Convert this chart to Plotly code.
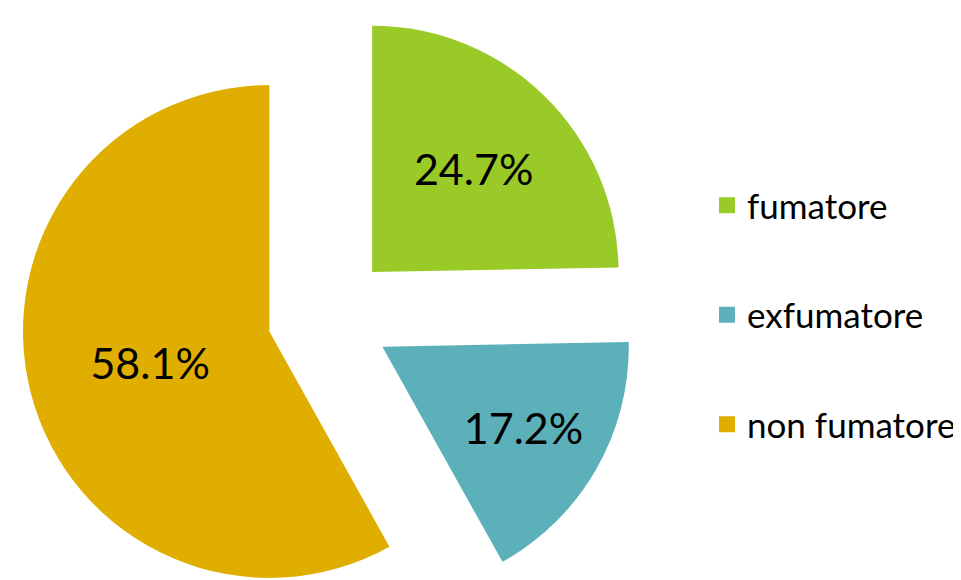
import plotly.graph_objects as go

labels = ["fumatore", "exfumatore", "non fumatore"]
values = [24.7, 17.2, 58.1]
colors = ["#9ACA27", "#5BB0BA", "#DFAE00"]

FIG_W, FIG_H = 961, 620
BOX = 616  # pie domain box size in px

fig = go.Figure()
fig.add_trace(
    go.Pie(
        labels=labels,
        values=values,
        sort=False,
        direction="clockwise",
        rotation=0,
        pull=[0.25, 0.25, 0.25],
        marker=dict(colors=colors, line=dict(width=0)),
        texttemplate="%{percent:.1%}",
        textposition="inside",
        insidetextorientation="horizontal",
        textfont=dict(family="Lato", size=43, color="black"),
        domain=dict(x=[(321 - BOX / 2) / FIG_W, (321 + BOX / 2) / FIG_W],
                    y=[1 - BOX / FIG_H, 1]),
        showlegend=False,
    )
)

# legend entries (one per category)
for lab, col in zip(labels, colors):
    fig.add_trace(
        go.Scatter(
            x=[None], y=[None], mode="markers", name=lab, legendgroup=lab,
            marker=dict(symbol="square", size=20, color=col),
            showlegend=True, hoverinfo="skip",
        )
    )

fig.update_layout(
    width=FIG_W,
    height=FIG_H,
    margin=dict(l=0, r=0, t=0, b=0),
    paper_bgcolor="white",
    plot_bgcolor="white",
    xaxis=dict(visible=False),
    yaxis=dict(visible=False),
    font=dict(family="Lato", size=35, color="black"),
    legend=dict(
        x=699 / FIG_W, y=1 - 307 / FIG_H, xanchor="left", yanchor="middle",
        traceorder="grouped", tracegroupgap=61,
        font=dict(family="Lato", size=35, color="black"),
    ),
)

fig.write_html("out.html")
